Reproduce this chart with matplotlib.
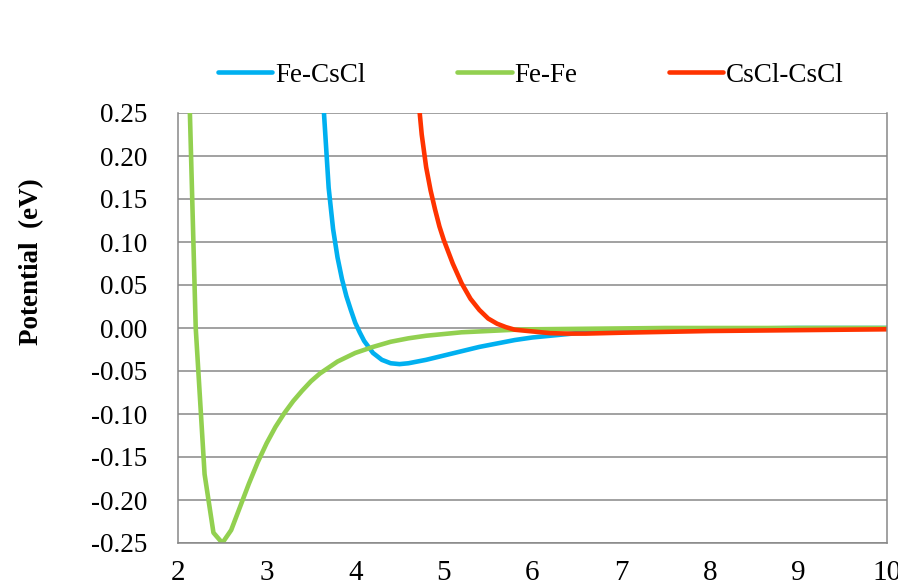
import matplotlib
matplotlib.use("Agg")
import matplotlib.pyplot as plt

plt.rcParams['font.family'] = ['Liberation Serif', 'DejaVu Serif']

# Fe-CsCl pair potential
fe_cscl_x = [3.6, 3.65, 3.7, 3.75, 3.8, 3.85, 3.9, 3.95, 4.0, 4.05, 4.1, 4.2,
             4.3, 4.4, 4.5, 4.6, 4.7, 4.8, 5.0, 5.2, 5.4, 5.6, 5.8, 6.0, 6.5,
             7.0, 7.5, 8.0, 9.0, 10.0]
fe_cscl_y = [0.33, 0.245, 0.163, 0.115, 0.082, 0.057, 0.037, 0.021, 0.006,
             -0.005, -0.015, -0.029, -0.037, -0.041, -0.042, -0.041, -0.039,
             -0.037, -0.032, -0.027, -0.022, -0.018, -0.014, -0.011, -0.006,
             -0.003, -0.002, -0.001, 0.0, 0.0]

# Fe-Fe pair potential
fe_fe_x = [2.1, 2.2, 2.3, 2.4, 2.5, 2.6, 2.7, 2.8, 2.9, 3.0, 3.1, 3.2, 3.3,
           3.4, 3.5, 3.6, 3.7, 3.8, 3.9, 4.0, 4.2, 4.4, 4.6, 4.8, 5.0, 5.2,
           5.4, 5.6, 5.8, 6.0, 6.5, 7.0, 7.5, 8.0, 9.0, 10.0]
fe_fe_y = [0.38, 0.0, -0.17, -0.238, -0.25, -0.235, -0.208, -0.181, -0.156,
           -0.134, -0.115, -0.099, -0.085, -0.073, -0.062, -0.053, -0.046,
           -0.039, -0.034, -0.029, -0.022, -0.016, -0.012, -0.009, -0.007,
           -0.005, -0.004, -0.003, -0.002, -0.0015, -0.001, -0.0005, 0.0,
           0.0, 0.0, 0.0]

# CsCl-CsCl pair potential
cscl_x = [4.7, 4.75, 4.8, 4.85, 4.9, 4.95, 5.0, 5.1, 5.2, 5.3, 5.4, 5.5, 5.6,
          5.7, 5.8, 5.9, 6.0, 6.2, 6.4, 6.6, 6.8, 7.0, 7.5, 8.0, 8.5, 9.0,
          9.5, 10.0]
cscl_y = [0.28, 0.225, 0.187, 0.16, 0.138, 0.118, 0.102, 0.075, 0.052, 0.034,
          0.021, 0.011, 0.005, 0.001, -0.002, -0.003, -0.004, -0.006, -0.0065,
          -0.0065, -0.006, -0.0055, -0.0045, -0.0035, -0.003, -0.0025, -0.002,
          -0.0015]

x_ticks = [2, 3, 4, 5, 6, 7, 8, 9, 10]
y_ticks = [-0.25, -0.20, -0.15, -0.10, -0.05, 0.0, 0.05, 0.10, 0.15, 0.20, 0.25]
y_labels = ['-0.25', '-0.20', '-0.15', '-0.10', '-0.05', '0.00',
            '0.05', '0.10', '0.15', '0.20', '0.25']

W, H = 898, 585
fig = plt.figure(figsize=(W / 100, H / 100), dpi=100)
ax = fig.add_axes([178 / W, 1 - 543 / H, (887 - 178) / W, (543 - 113) / H])

grid_col = '#878787'
lw = 3.3
ax.plot(fe_cscl_x, fe_cscl_y, color='#00B0F0', lw=lw, label='Fe-CsCl', solid_capstyle='round')
ax.plot(fe_fe_x, fe_fe_y, color='#92D050', lw=lw, label='Fe-Fe', solid_capstyle='round')
ax.plot(cscl_x, cscl_y, color='#FF3300', lw=lw, label='CsCl-CsCl', solid_capstyle='round')

ax.set_xlim(2, 10)
ax.set_ylim(-0.25, 0.25)
ax.set_xticks(x_ticks)
ax.set_xticklabels([str(t) for t in x_ticks], fontsize=21)
ax.set_yticks(y_ticks)
ax.set_yticklabels(y_labels, fontsize=19.5)
ax.tick_params(axis='both', length=0)
ax.tick_params(axis='y', pad=22)
ax.tick_params(axis='x', pad=12.5)

ax.yaxis.grid(True, color=grid_col, lw=1.1)
ax.set_axisbelow(True)
for side in ['left', 'bottom', 'right']:
    ax.spines[side].set_color(grid_col)
    ax.spines[side].set_linewidth(1.1)
ax.spines['top'].set_visible(False)

fig.text(32 / W, 1 - 262 / H, 'Potential  (eV)', rotation=90, fontsize=19.5,
         fontweight='bold', ha='center', va='center')

fig.legend(loc='center left', bbox_to_anchor=(218 / W, 1 - 75 / H),
           bbox_transform=fig.transFigure, ncol=3, frameon=False,
           fontsize=19.5, handlelength=2.0, handletextpad=0.1,
           columnspacing=3.4, borderpad=0, borderaxespad=0)

fig.savefig('out.png', dpi=100)
